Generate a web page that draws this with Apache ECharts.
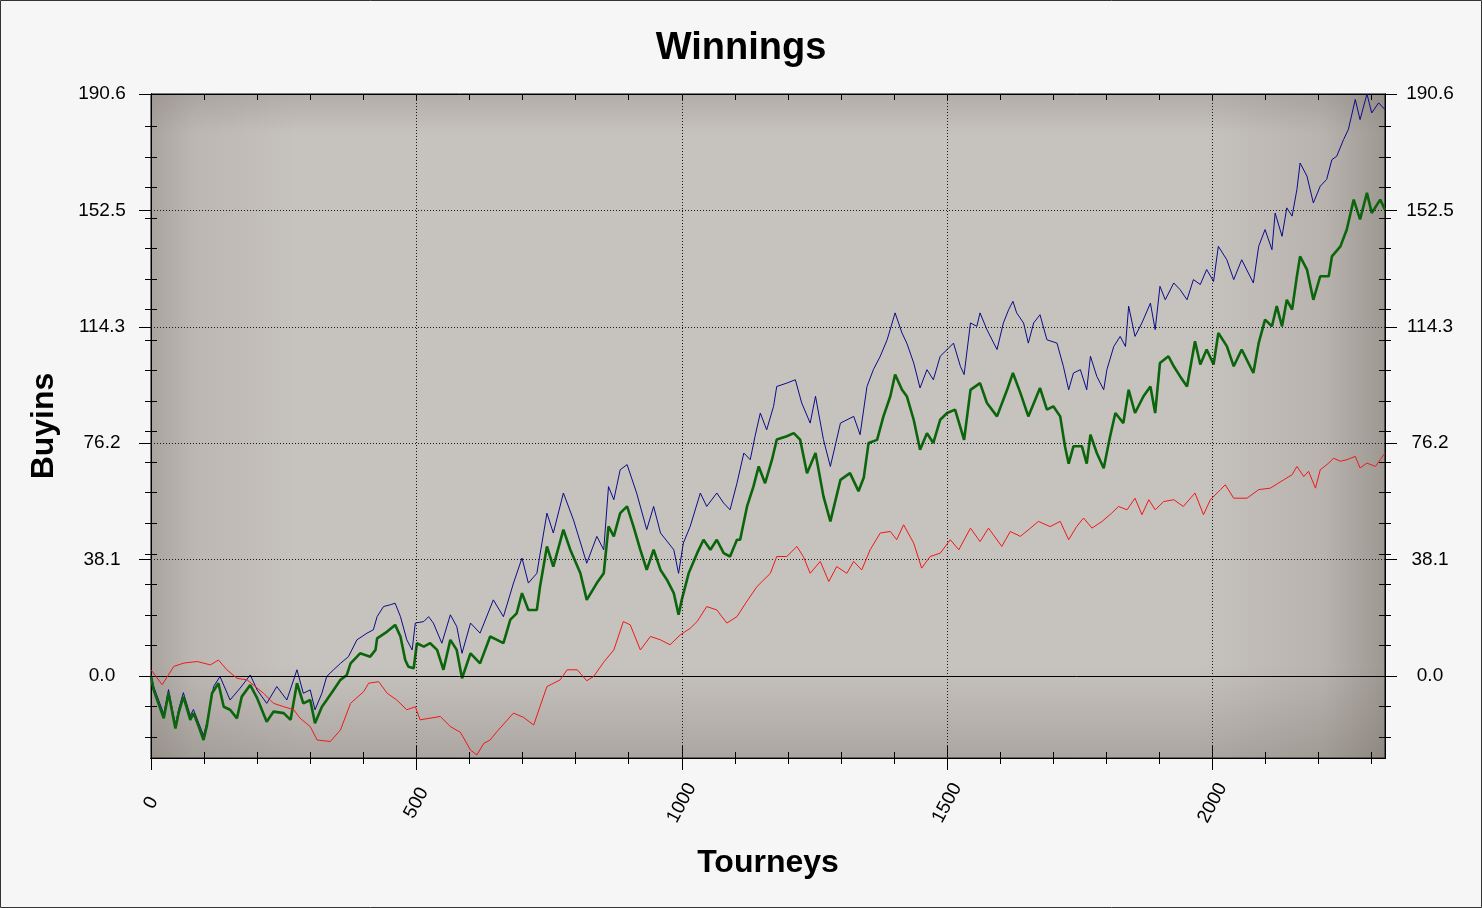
<!DOCTYPE html>
<html><head><meta charset="utf-8">
<script src="https://cdn.jsdelivr.net/npm/echarts@6/dist/echarts.min.js"></script>
<style>html,body{margin:0;padding:0;background:#f6f6f6}#c{width:1482px;height:908px}</style>
</head><body><div id="c"></div><script>
// ---- data (tourney, buyins) ----
const tourneyTicks = [0, 500, 1000, 1500, 2000];
const tourneyMinorTicks = [100,200,300,400,600,700,800,900,1100,1200,1300,1400,1600,1700,1800,1900,2100,2200,2300];
const buyinTicks = [0, 38.1, 76.2, 114.3, 152.5, 190.6];
const buyinMinorTicks = [-20,-10,10,20,30,40,50,60,70,80,90,100,110,120,130,140,150,160,170,180];

const redLine = [[0,2.0],[21,-2.9],[43,3.1],[62,4.2],[87,4.7],[112,3.6],[127,5.2],[143,2.0],[162,-0.8],[181,-1.3],[200,-4.0],[212,-5.7],[231,-9.0],[250,-10.1],[269,-11.1],[281,-13.9],[300,-16.6],[313,-21.0],[338,-21.5],[357,-17.7],[376,-9.0],[401,-5.1],[410,-2.4],[429,-1.9],[445,-5.7],[463,-7.9],[482,-11.1],[498,-10.1],[507,-14.4],[545,-13.3],[564,-16.6],[583,-18.5],[602,-24.3],[614,-25.9],[627,-22.1],[639,-21.0],[652,-18.2],[683,-12.2],[702,-13.6],[721,-16.1],[733,-10.0],[746,-3.5],[771,-1.3],[784,2.0],[803,2.0],[821,-1.6],[834,-0.2],[853,4.5],[872,8.5],[890,17.8],[903,16.7],[922,8.5],[941,12.9],[960,11.8],[978,10.2],[997,13.4],[1016,15.6],[1029,17.8],[1047,22.7],[1066,21.6],[1085,17.3],[1104,19.4],[1123,24.5],[1142,29.3],[1167,33.6],[1179,39.1],[1198,39.1],[1217,42.4],[1229,39.1],[1242,33.6],[1261,37.5],[1277,30.9],[1292,35.8],[1311,33.6],[1324,37.5],[1339,34.7],[1355,41.3],[1374,46.8],[1393,47.3],[1405,44.6],[1418,49.5],[1437,43.5],[1452,35.3],[1468,39.1],[1487,40.2],[1506,44.6],[1522,41.3],[1544,48.4],[1562,44.0],[1578,48.4],[1603,42.4],[1619,47.3],[1638,45.7],[1657,48.4],[1672,50.6],[1694,48.9],[1713,50.6],[1729,44.6],[1744,48.9],[1757,51.7],[1773,48.4],[1792,50.6],[1810,53.3],[1823,55.5],[1839,54.4],[1854,58.2],[1867,52.8],[1880,57.7],[1892,54.4],[1908,57.1],[1927,57.7],[1945,55.5],[1967,59.9],[1983,52.8],[1996,57.7],[2015,61.0],[2024,62.6],[2040,58.2],[2065,58.2],[2087,61.0],[2109,61.5],[2134,64.2],[2150,65.9],[2159,68.6],[2172,65.3],[2181,67.0],[2194,61.5],[2203,67.5],[2219,69.7],[2228,71.3],[2241,70.3],[2253,70.8],[2269,71.9],[2278,68.1],[2291,69.7],[2307,68.6],[2316,70.8],[2325,73.0]];

const greenLine = [[0,-0.2],[5,-4.6],[24,-13.9],[33,-5.7],[46,-17.2],[52,-12.2],[61,-6.8],[74,-14.4],[80,-12.2],[90,-16.6],[99,-21.0],[105,-16.6],[115,-5.7],[127,-2.4],[137,-10.1],[149,-11.1],[162,-13.9],[171,-6.8],[187,-3.0],[200,-7.3],[218,-15.0],[231,-11.7],[250,-12.2],[263,-14.4],[275,-2.4],[287,-9.0],[300,-7.9],[309,-15.5],[322,-10.1],[331,-7.9],[344,-4.6],[357,-1.3],[369,0.3],[376,4.1],[394,7.4],[413,6.3],[423,8.5],[426,12.3],[445,14.5],[460,16.7],[470,12.9],[479,5.2],[485,3.0],[495,2.5],[501,10.7],[514,9.6],[526,10.7],[539,8.5],[551,2.0],[564,11.8],[576,8.5],[586,-0.8],[602,7.4],[620,4.1],[639,12.9],[652,11.8],[664,10.7],[677,18.4],[689,20.5],[699,27.1],[711,21.6],[727,21.6],[733,29.3],[746,42.4],[758,35.8],[777,47.9],[790,41.3],[809,33.6],[821,24.9],[840,30.4],[853,33.6],[862,49.0],[872,45.7],[884,53.3],[897,55.5],[909,49.0],[922,41.3],[934,34.7],[947,41.3],[960,34.7],[972,31.5],[985,27.1],[994,20.0],[1000,24.9],[1013,33.6],[1029,40.2],[1041,44.6],[1054,41.3],[1066,44.6],[1079,40.2],[1091,39.1],[1104,44.6],[1110,44.6],[1123,55.5],[1135,62.0],[1145,68.6],[1157,63.1],[1170,70.8],[1179,77.4],[1198,78.5],[1211,79.5],[1223,77.4],[1236,66.4],[1252,73.0],[1267,58.8],[1280,50.6],[1299,64.2],[1317,66.4],[1333,60.5],[1343,65.0],[1352,76.3],[1368,77.3],[1380,85.0],[1393,91.6],[1402,98.7],[1415,93.7],[1424,91.6],[1437,83.9],[1449,74.1],[1462,79.5],[1474,76.3],[1487,83.9],[1500,86.1],[1515,87.2],[1532,77.3],[1544,93.7],[1562,95.9],[1575,89.4],[1594,85.0],[1613,93.7],[1624,99.2],[1638,92.7],[1653,85.0],[1675,94.3],[1688,87.2],[1700,88.3],[1713,85.0],[1722,75.2],[1729,69.5],[1738,75.2],[1754,75.2],[1763,69.5],[1770,79.0],[1782,73.0],[1795,68.0],[1807,78.4],[1817,86.1],[1832,82.8],[1842,93.7],[1854,86.1],[1870,91.6],[1883,94.8],[1892,86.1],[1901,102.5],[1917,104.7],[1927,101.4],[1939,98.1],[1952,94.8],[1967,109.6],[1977,102.0],[1989,106.9],[2002,102.0],[2011,112.3],[2027,108.0],[2040,101.4],[2055,106.9],[2077,99.2],[2087,109.0],[2099,116.7],[2112,114.5],[2121,121.1],[2131,114.5],[2140,123.2],[2150,120.0],[2159,130.9],[2165,137.4],[2178,133.1],[2190,123.2],[2203,130.9],[2219,130.9],[2225,137.4],[2241,140.7],[2253,146.2],[2266,156.0],[2278,149.5],[2291,158.2],[2300,151.6],[2316,156.0],[2325,152.7]];

const blueLine = [[0,0.5],[5,-3.5],[24,-12.5],[33,-4.5],[46,-16.0],[52,-11.0],[61,-5.5],[74,-13.0],[80,-11.0],[90,-15.5],[99,-19.5],[105,-15.5],[118,-3.5],[130,-0.2],[149,-7.9],[168,-4.0],[187,0.3],[200,-4.6],[218,-9.0],[237,-3.5],[256,-7.9],[275,2.0],[287,-5.7],[300,-4.6],[309,-11.1],[322,-5.7],[331,-0.2],[344,2.0],[357,4.1],[372,6.3],[388,11.8],[407,14.0],[419,15.1],[426,19.4],[438,22.7],[451,23.3],[460,23.8],[470,19.4],[482,11.8],[492,8.5],[498,17.3],[514,17.8],[523,19.4],[532,17.3],[548,10.7],[564,20.0],[576,16.2],[586,7.4],[602,17.3],[620,14.0],[645,24.9],[664,19.4],[683,30.4],[699,38.6],[711,30.4],[727,33.6],[746,53.3],[758,46.8],[777,59.9],[796,51.1],[821,36.9],[840,45.7],[853,41.3],[862,62.0],[872,57.7],[884,67.5],[897,69.2],[915,59.9],[934,47.9],[947,55.5],[960,46.8],[985,41.3],[994,33.6],[1003,43.5],[1016,49.0],[1035,59.9],[1047,55.5],[1066,59.9],[1079,56.6],[1091,54.4],[1104,63.1],[1117,73.0],[1129,70.8],[1138,78.4],[1148,86.1],[1160,80.6],[1173,88.3],[1179,94.8],[1198,95.9],[1214,97.0],[1226,89.4],[1242,82.8],[1252,91.6],[1267,77.4],[1280,68.6],[1299,82.8],[1324,85.0],[1336,79.0],[1349,94.8],[1361,100.3],[1374,104.7],[1387,110.1],[1402,118.9],[1415,112.3],[1424,109.0],[1437,102.5],[1449,94.3],[1462,100.3],[1474,97.0],[1487,104.7],[1500,106.9],[1512,109.0],[1525,101.4],[1532,98.7],[1544,115.6],[1556,114.5],[1562,118.9],[1575,113.4],[1594,106.9],[1606,115.6],[1616,120.0],[1624,122.7],[1631,118.9],[1644,115.6],[1653,109.0],[1663,115.6],[1675,118.3],[1688,110.1],[1707,109.0],[1719,101.4],[1729,93.7],[1738,99.2],[1751,100.3],[1763,93.7],[1770,104.7],[1782,98.1],[1795,93.7],[1801,100.3],[1814,107.9],[1826,111.2],[1836,107.9],[1842,121.1],[1854,111.2],[1867,115.6],[1883,122.1],[1892,113.4],[1901,127.6],[1911,123.2],[1927,128.7],[1939,126.5],[1952,123.2],[1964,129.8],[1977,128.2],[1989,133.1],[2002,129.2],[2011,140.7],[2027,136.3],[2040,129.8],[2055,136.3],[2077,128.7],[2087,140.7],[2099,146.2],[2112,139.6],[2118,151.6],[2131,144.0],[2140,153.3],[2150,150.6],[2159,159.3],[2165,168.0],[2178,163.7],[2190,154.9],[2203,160.4],[2215,162.6],[2225,169.1],[2234,170.2],[2247,175.7],[2256,179.0],[2269,188.8],[2278,182.2],[2291,190.6],[2300,184.4],[2313,187.7],[2325,185.5]];

const X_MIN = 0, X_MAX = 2325;
const Y_MIN = -26.9, Y_MAX = 190.6;

// ---- chart ----
const FONT = '"Liberation Sans", Arial, sans-serif';
const chart = echarts.init(document.getElementById('c'), null, {renderer: 'canvas'});

function yAx(pos, ticks, len, inside, extra, gi) {
  return Object.assign({
    type: 'value', gridIndex: gi || 0, position: pos, min: Y_MIN, max: Y_MAX, offset: 0,
    splitLine: {show: false},
    axisLine: {show: true, onZero: false, lineStyle: {color: '#000', width: 1}},
    axisTick: {show: true, customValues: ticks, length: len, inside: inside, lineStyle: {color: '#000', width: 1}},
    axisLabel: {show: false}
  }, extra || {});
}
function xAx(pos, ticks, len, inside, extra, gi) {
  return Object.assign({
    type: 'value', gridIndex: gi || 0, position: pos, min: X_MIN, max: X_MAX, offset: 0,
    splitLine: {show: false},
    axisLine: {show: true, onZero: false, lineStyle: {color: '#000', width: 1}},
    axisTick: {show: true, customValues: ticks, length: len, inside: inside, lineStyle: {color: '#000', width: 1}},
    axisLabel: {show: false}
  }, extra || {});
}

const yLabelStyle = {fontFamily: FONT, fontSize: 19, color: '#000'};
const gridBox = {left: 151, right: 97, top: 94, bottom: 150};

const option = {
  animation: false,
  backgroundColor: '#f6f6f6',
  title: {
    text: 'Winnings', left: 'center', top: 25,
    textStyle: {fontFamily: FONT, fontSize: 38, fontWeight: 'bold', color: '#000'}
  },
  grid: [
    Object.assign({
      show: true, borderColor: '#000', borderWidth: 1, z: 0,
      backgroundColor: {
        type: 'linear', x: 0, y: 0, x2: 1, y2: 0,
        colorStops: [
          {offset: 0, color: '#aaa49f'},
          {offset: 0.035, color: '#bcb7b3'},
          {offset: 0.12, color: '#c6c2be'},
          {offset: 0.85, color: '#c6c2be'},
          {offset: 0.95, color: '#b8b3ae'},
          {offset: 1, color: '#9e9893'}
        ]
      }
    }, gridBox),
    Object.assign({
      show: true, borderWidth: 0, z: 0,
      backgroundColor: {
        type: 'linear', x: 0, y: 0, x2: 0, y2: 1,
        colorStops: [
          {offset: 0, color: 'rgba(110,100,95,0.22)'},
          {offset: 0.06, color: 'rgba(110,100,95,0)'},
          {offset: 0.86, color: 'rgba(110,100,95,0)'},
          {offset: 1, color: 'rgba(100,92,85,0.28)'}
        ]
      }
    }, gridBox)
  ],
  graphic: [{
    type: 'rect', silent: true, z: 100,
    shape: {x: 0.5, y: 0.5, width: 1481, height: 907},
    style: {fill: 'none', stroke: '#333', lineWidth: 1}
  }],
  xAxis: [
    xAx('bottom', tourneyTicks, 12, false, {
      name: 'Tourneys', nameLocation: 'middle', nameGap: 89,
      nameTextStyle: {fontFamily: FONT, fontSize: 32, fontWeight: 'bold', color: '#000'},
      axisLabel: {show: true, customValues: tourneyTicks, rotate: 62, margin: 45,
        align: 'center', verticalAlign: 'middle', formatter: v => String(v),
        fontFamily: FONT, fontSize: 19, color: '#000'}
    }),
    xAx('bottom', tourneyTicks, 12, true),
    xAx('bottom', tourneyMinorTicks, 6, false),
    xAx('bottom', tourneyMinorTicks, 6, true),
    xAx('top', tourneyMinorTicks.concat(tourneyTicks), 6, true),
    xAx('bottom', [], 0, false, {show: false}, 1)
  ],
  yAxis: [
    yAx('left', buyinTicks, 12, false, {
      name: 'Buyins', nameLocation: 'middle', nameGap: 91, nameRotate: 90,
      nameTextStyle: {fontFamily: FONT, fontSize: 32, fontWeight: 'bold', color: '#000'},
      axisLabel: Object.assign({show: true, customValues: buyinTicks, align: 'center', margin: 49,
        formatter: v => v.toFixed(1)}, yLabelStyle)
    }),
    yAx('left', buyinMinorTicks, 6, false),
    yAx('left', buyinMinorTicks, 6, true),
    yAx('right', buyinTicks, 12, false, {
      axisLabel: Object.assign({show: true, customValues: buyinTicks, align: 'center', margin: 45,
        formatter: v => v.toFixed(1)}, yLabelStyle)
    }),
    yAx('right', buyinMinorTicks, 6, false),
    yAx('right', buyinMinorTicks, 6, true),
    yAx('left', [], 0, false, {show: false}, 1)
  ],
  series: [
    {
      name: 'grid', type: 'line', data: [], z: 1, silent: true,
      markLine: {
        silent: true, symbol: ['none', 'none'], label: {show: false},
        emphasis: {disabled: true},
        lineStyle: {color: '#1a1a1a', type: [1, 2], width: 1},
        data: buyinTicks.slice(1, 5).map(v => ({yAxis: v}))
          .concat(tourneyTicks.slice(1).map(v => ({xAxis: v})))
          .concat([{yAxis: 0, lineStyle: {type: 'solid', color: '#000', width: 1}}])
      }
    },
    {
      name: 'Blue', type: 'line', data: blueLine, z: 3, showSymbol: false, symbol: 'none',
      lineStyle: {color: '#0c0c88', width: 1}, silent: true
    },
    {
      name: 'Green', type: 'line', data: greenLine, z: 4, showSymbol: false, symbol: 'none',
      lineStyle: {color: '#0b650b', width: 2.6}, silent: true
    },
    {
      name: 'Red', type: 'line', data: redLine, z: 5, showSymbol: false, symbol: 'none',
      lineStyle: {color: '#f01818', width: 1}, silent: true
    }
  ]
};
chart.setOption(option);
</script></body></html>
